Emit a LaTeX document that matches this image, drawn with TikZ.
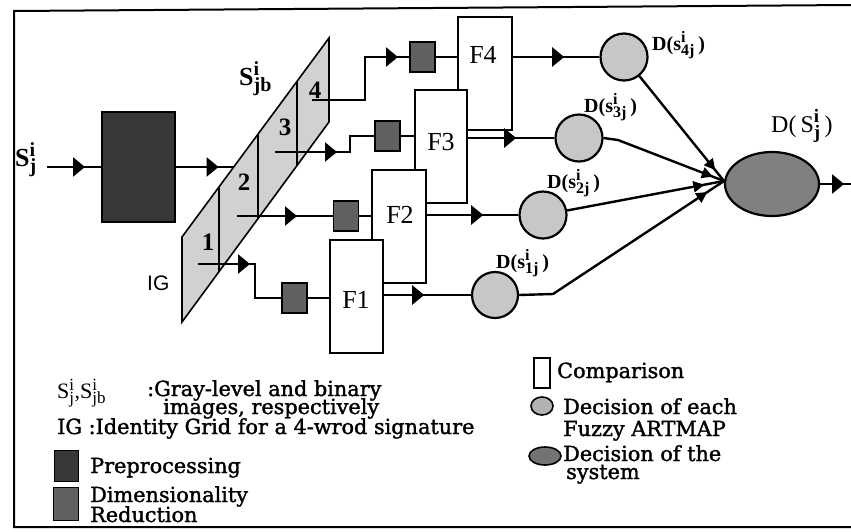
\documentclass[tikz,border=0pt]{standalone}
\usepackage{fontspec}
\setmainfont{Liberation Serif}
\newfontfamily\legfont[FakeBold=1.5]{DejaVu Serif}
\newfontfamily\igfont{Liberation Sans}
\usetikzlibrary{arrows.meta,decorations.markings,shapes.geometric}
\newcommand{\scb}[2]{\hbox{\fontsize{#1}{#1}\selectfont #2}}
\begin{document}
\begin{tikzpicture}[x=1pt,y=-1pt,
  wire/.style={line width=2.4pt},
  bigarr/.style={postaction={decorate},decoration={markings,mark=at position #1 with {\arrow{Triangle[length=12pt,width=19pt]}}}},
  smallarr/.style={postaction={decorate},decoration={markings,mark=at position #1 with {\arrow{Triangle[length=11pt,width=11pt]}}}},
  cmpbox/.style={draw,line width=2.4pt,fill=white,minimum width=54pt,minimum height=113pt,inner sep=0pt},
  drbox/.style={draw,line width=1.2pt,fill=black!62,minimum width=25pt,minimum height=30pt,inner sep=0pt},
  dcirc/.style={circle,draw,line width=2.2pt,fill=black!22,minimum size=47pt,inner sep=0pt},
  flbl/.style={font=\fontsize{26}{30}\selectfont,inner sep=0pt,anchor=base},
  nlbl/.style={font=\fontsize{25}{30}\selectfont\bfseries,inner sep=0pt,anchor=base},
  dlbl/.style={font=\fontsize{20}{24}\selectfont\bfseries,inner sep=0pt,anchor=base west},
  leg/.style={font=\legfont\fontsize{20.8}{24}\selectfont,inner sep=0pt,anchor=base west},
]
\useasboundingbox (0,0) rectangle (851,531);
% frame
\draw[line width=2pt] (851,5) -- (14,11) -- (14,527) -- (851,527);

% identity grid
\draw[line width=1.6pt,fill=black!18] (182,322) -- (182,237) -- (329,38) -- (329,122) -- cycle;
\draw[line width=1.4pt] (219,186.9) -- (219,271.9);
\draw[line width=1.4pt] (258,134.1) -- (258,219.1);
\draw[line width=1.4pt] (297,81.3) -- (297,166.3);
\node[nlbl] (n1) at (208,250) {1};
\node[nlbl] (n2) at (244,190) {2};
\node[nlbl] (n3) at (285,135) {3};
\node[nlbl] (n4) at (315,98) {4};
\node[font=\igfont\fontsize{21}{24}\selectfont,inner sep=0pt,anchor=base west] (ig) at (147,290) {IG};
\node[font=\fontsize{26}{30}\selectfont\bfseries,inner sep=0pt,anchor=base west] (sjb) at (239,85) {S$^{\scb{20}{i}}_{\scb{20}{jb}}$};

% input and preprocessing
\node[font=\fontsize{26}{30}\selectfont\bfseries,inner sep=0pt,anchor=base west] (sin) at (15,166) {S$^{\scb{20}{i}}_{\scb{20}{j}}$};
\coordinate (in) at (47,167);
\node[draw,line width=1.2pt,fill=black!78,minimum width=73pt,minimum height=110pt,inner sep=0pt] (pre) at (138.5,167) {};
\coordinate (pg) at (234,167);
\draw[wire,bigarr=38pt] (in) -- (pre.west);
\draw[wire,bigarr=43pt] (pre.east) -- (pg);

% comparison boxes (drawn back to front)
\node[cmpbox] (F4) at (485,73.5) {};
\node[cmpbox,minimum width=52pt] (F3) at (441,146.5) {};
\node[cmpbox] (F2) at (399,226.5) {};
\node[cmpbox,minimum width=53pt] (F1) at (356.5,296.5) {};
\node[flbl] (f4t) at (483,63) {F4};
\node[flbl] (f3t) at (441,150) {F3};
\node[flbl] (f2t) at (400,223) {F2};
\node[flbl] (f1t) at (356,308) {F1};

% dimensionality reduction boxes
\node[drbox] (dr4) at (422.5,57) {};
\node[drbox] (dr3) at (387.5,136) {};
\node[drbox] (dr2) at (346,216) {};
\node[drbox] (dr1) at (294.5,298) {};

% wires from the grid
\coordinate (w4) at (312,100);
\coordinate (k4) at (365,100);
\coordinate (w3) at (275,152);
\coordinate (k3) at (350,152);
\coordinate (w2) at (237,216);
\coordinate (w1) at (198,264);
\coordinate (k1) at (255,264);
\draw[wire,bigarr=129pt] (w4) -- (k4) |- (dr4.west);
\draw[wire,bigarr=62pt] (w3) -- (k3) |- (dr3.west);
\draw[wire,bigarr=60pt] (w2) -- (dr2.west);
\draw[wire,bigarr=52pt] (w1) -- (k1) |- (dr1.west);
\draw[wire] (dr4.east) -- (dr4.east -| F4.west);
\draw[wire] (dr3.east) -- (dr3.east -| F3.west);
\draw[wire] (dr2.east) -- (dr2.east -| F2.west);
\draw[wire] (dr1.east) -- (dr1.east -| F1.west);

% fuzzy ARTMAP decisions
\node[dcirc] (c4) at (624,57) {};
\node[dcirc] (c3) at (579,138) {};
\node[dcirc] (c2) at (543,215) {};
\node[dcirc,minimum size=46pt] (c1) at (495,295) {};
\draw[wire,bigarr=51pt] (c4.west -| F4.east) -- (c4.west);
\draw[wire,bigarr=48pt] (c3.west -| F3.east) -- (c3.west);
\draw[wire,bigarr=56pt] (c2.west -| F2.east) -- (c2.west);
\draw[wire,bigarr=40pt] (c1.west -| F1.east) -- (c1.west);

\node[dlbl] (d4) at (652,50) {D(s$^{\scb{16}{i}}_{\scb{16}{4j}}$\,)};
\node[dlbl] (d3) at (584,112) {D(s$^{\scb{16}{i}}_{\scb{16}{3j}}$\,)};
\node[dlbl] (d2) at (547,188) {D(s$^{\scb{16}{i}}_{\scb{16}{2j}}$\,)};
\node[dlbl] (d1) at (496,268) {D(s$^{\scb{16}{i}}_{\scb{16}{1j}}$\,)};

% system decision
\node[ellipse,draw,line width=2.2pt,fill=black!50,minimum width=94pt,minimum height=64pt,inner sep=0pt] (ell) at (772,184) {};
\node[font=\fontsize{24}{28}\selectfont,inner sep=0pt,anchor=base west] (ds) at (771,132) {D(\,S$^{\scb{19}{\bfseries i}}_{\scb{19}{\bfseries j}}$\,)};
\coordinate (conv) at (724,181);
\coordinate (k3b) at (618,140);
\coordinate (k1b) at (553,294);
\coordinate (out) at (851,184);
\draw[wire,smallarr=-14pt] (c4) -- (conv);
\draw[wire,smallarr=-12pt] (c3.east) -- (k3b) -- (conv);
\draw[wire,smallarr=-20pt] (c2) -- (conv);
\draw[wire,smallarr=-20pt] (c1.east) -- (k1b) -- (conv);
\draw[wire,bigarr=24pt] (ell.east) -- (out);

% legend
\node[font=\fontsize{22}{26}\selectfont,inner sep=0pt,anchor=base west] (ls) at (57,398) {S$^{\scb{17}{i}}_{\scb{17}{j}}$,S$^{\scb{17}{i}}_{\scb{17}{jb}}$};
\node[leg] (lg1) at (147,396) {:Gray-level and binary};
\node[leg] (lg2) at (163,414) {images, respectively};
\node[leg] (lig) at (57,434) {IG :Identity Grid for a 4-wrod signature};
\node[draw,line width=1pt,fill=black!78,minimum width=24pt,minimum height=31pt,inner sep=0pt] (lpre) at (66.5,466) {};
\node[leg] (lpret) at (90,473) {Preprocessing};
\node[draw,line width=1pt,fill=black!62,minimum width=25pt,minimum height=33pt,inner sep=0pt] (ldr) at (66,504) {};
\node[leg] (ldrt1) at (90,502) {Dimensionality};
\node[leg] (ldrt2) at (90,522) {Reduction};
\node[draw,line width=2pt,fill=white,minimum width=16pt,minimum height=30pt,inner sep=0pt] (lcmp) at (541.5,373) {};
\node[leg] (lcmpt) at (557,378) {Comparison};
\node[ellipse,draw,line width=1.6pt,fill=black!30,minimum width=22pt,minimum height=18pt,inner sep=0pt] (lc) at (542,406) {};
\node[leg] (lct1) at (563,414) {Decision of each};
\node[leg] (lct2) at (563,436) {Fuzzy ARTMAP};
\node[ellipse,draw,line width=1.6pt,fill=black!55,minimum width=32pt,minimum height=18pt,inner sep=0pt] (le) at (545,456) {};
\node[leg] (let1) at (563,461) {Decision of the};
\node[leg] (let2) at (566,479) {system};
\end{tikzpicture}
\end{document}
